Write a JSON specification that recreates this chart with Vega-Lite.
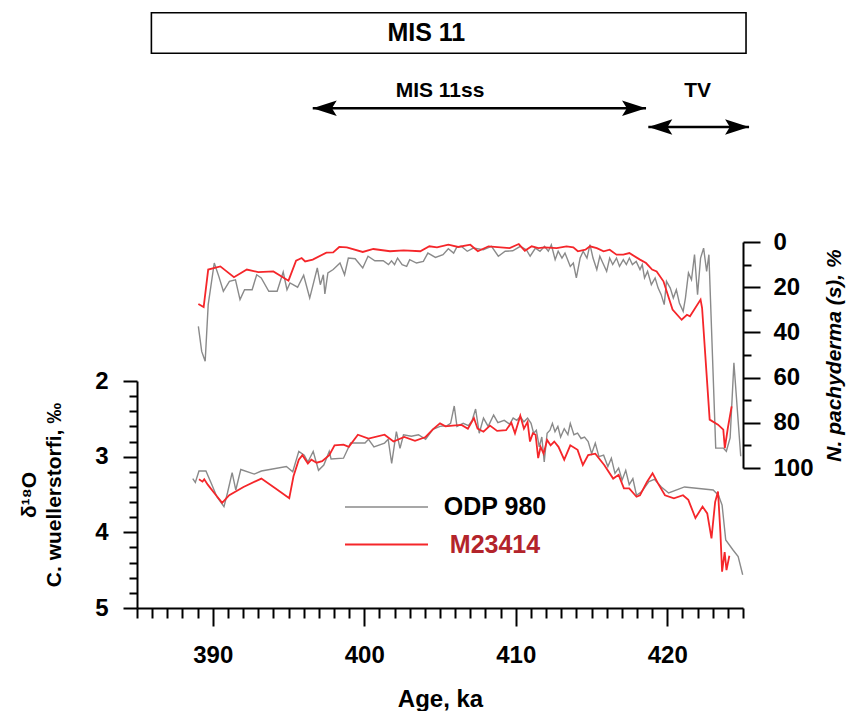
{
  "$schema": "https://vega.github.io/schema/vega-lite/v6.json",
  "width": 606,
  "height": 608,
  "autosize": {"type": "none"},
  "padding": {"left": 137, "top": 0, "right": 105, "bottom": 103},
  "background": "white",
  "config": {
    "font": "Liberation Sans",
    "view": {"stroke": null},
    "axis": {
      "domainColor": "black", "domainWidth": 2, "tickColor": "black", "tickWidth": 2,
      "labelColor": "black", "labelFontSize": 24, "labelFontWeight": "bold", "labelFont": "Liberation Sans",
      "titleFontSize": 24, "titleFontWeight": "bold", "titleColor": "black", "titleFont": "Liberation Sans",
      "grid": false
    }
  },
  "datasets": {
    "d18o": [
      {"core":"ODP 980","age":388.68,"d18o":3.29},{"core":"ODP 980","age":388.85,"d18o":3.34},{"core":"ODP 980","age":389.09,"d18o":3.19},{"core":"ODP 980","age":389.55,"d18o":3.19},{"core":"ODP 980","age":389.9,"d18o":3.35},{"core":"ODP 980","age":390.27,"d18o":3.53},{"core":"ODP 980","age":390.74,"d18o":3.66},{"core":"ODP 980","age":390.97,"d18o":3.48},{"core":"ODP 980","age":391.28,"d18o":3.21},{"core":"ODP 980","age":391.52,"d18o":3.44},{"core":"ODP 980","age":391.85,"d18o":3.17},{"core":"ODP 980","age":392.74,"d18o":3.23},{"core":"ODP 980","age":393.21,"d18o":3.19},{"core":"ODP 980","age":394.86,"d18o":3.13},{"core":"ODP 980","age":395.28,"d18o":3.2},{"core":"ODP 980","age":395.68,"d18o":2.93},{"core":"ODP 980","age":396.04,"d18o":2.98},{"core":"ODP 980","age":396.28,"d18o":3.07},{"core":"ODP 980","age":396.63,"d18o":2.93},{"core":"ODP 980","age":396.98,"d18o":3.18},{"core":"ODP 980","age":397.33,"d18o":3.11},{"core":"ODP 980","age":397.69,"d18o":2.93},{"core":"ODP 980","age":397.81,"d18o":3.03},{"core":"ODP 980","age":398.63,"d18o":3.02},{"core":"ODP 980","age":399.1,"d18o":2.82},{"core":"ODP 980","age":400.05,"d18o":2.82},{"core":"ODP 980","age":400.28,"d18o":2.77},{"core":"ODP 980","age":400.64,"d18o":2.87},{"core":"ODP 980","age":401.34,"d18o":2.82},{"core":"ODP 980","age":401.58,"d18o":2.77},{"core":"ODP 980","age":401.81,"d18o":3.09},{"core":"ODP 980","age":402.12,"d18o":2.67},{"core":"ODP 980","age":402.36,"d18o":2.89},{"core":"ODP 980","age":402.59,"d18o":2.71},{"core":"ODP 980","age":403.11,"d18o":2.73},{"core":"ODP 980","age":403.58,"d18o":2.71},{"core":"ODP 980","age":404.05,"d18o":2.77},{"core":"ODP 980","age":404.53,"d18o":2.64},{"core":"ODP 980","age":405.0,"d18o":2.6},{"core":"ODP 980","age":405.47,"d18o":2.59},{"core":"ODP 980","age":405.7,"d18o":2.56},{"core":"ODP 980","age":405.94,"d18o":2.33},{"core":"ODP 980","age":406.12,"d18o":2.6},{"core":"ODP 980","age":406.53,"d18o":2.56},{"core":"ODP 980","age":406.88,"d18o":2.59},{"core":"ODP 980","age":407.12,"d18o":2.52},{"core":"ODP 980","age":407.35,"d18o":2.37},{"core":"ODP 980","age":407.59,"d18o":2.69},{"core":"ODP 980","age":407.87,"d18o":2.49},{"core":"ODP 980","age":408.18,"d18o":2.6},{"core":"ODP 980","age":408.54,"d18o":2.45},{"core":"ODP 980","age":408.82,"d18o":2.55},{"core":"ODP 980","age":409.24,"d18o":2.52},{"core":"ODP 980","age":409.6,"d18o":2.57},{"core":"ODP 980","age":409.83,"d18o":2.49},{"core":"ODP 980","age":410.07,"d18o":2.52},{"core":"ODP 980","age":410.3,"d18o":2.47},{"core":"ODP 980","age":410.54,"d18o":2.54},{"core":"ODP 980","age":410.78,"d18o":2.49},{"core":"ODP 980","age":411.01,"d18o":2.56},{"core":"ODP 980","age":411.18,"d18o":2.69},{"core":"ODP 980","age":411.36,"d18o":2.65},{"core":"ODP 980","age":411.55,"d18o":2.87},{"core":"ODP 980","age":411.72,"d18o":2.74},{"core":"ODP 980","age":411.88,"d18o":3.07},{"core":"ODP 980","age":412.07,"d18o":2.69},{"core":"ODP 980","age":412.26,"d18o":2.65},{"core":"ODP 980","age":412.42,"d18o":2.56},{"core":"ODP 980","age":412.59,"d18o":2.67},{"core":"ODP 980","age":412.78,"d18o":2.6},{"core":"ODP 980","age":412.96,"d18o":2.74},{"core":"ODP 980","age":413.2,"d18o":2.63},{"core":"ODP 980","age":413.44,"d18o":2.71},{"core":"ODP 980","age":413.6,"d18o":2.56},{"core":"ODP 980","age":413.84,"d18o":2.71},{"core":"ODP 980","age":414.08,"d18o":2.69},{"core":"ODP 980","age":414.31,"d18o":2.76},{"core":"ODP 980","age":414.54,"d18o":2.74},{"core":"ODP 980","age":414.78,"d18o":2.8},{"core":"ODP 980","age":415.01,"d18o":2.96},{"core":"ODP 980","age":415.25,"d18o":2.82},{"core":"ODP 980","age":415.49,"d18o":3.0},{"core":"ODP 980","age":415.8,"d18o":2.98},{"core":"ODP 980","age":416.08,"d18o":3.13},{"core":"ODP 980","age":416.31,"d18o":3.02},{"core":"ODP 980","age":416.55,"d18o":3.22},{"core":"ODP 980","age":416.79,"d18o":3.15},{"core":"ODP 980","age":417.02,"d18o":3.31},{"core":"ODP 980","age":417.26,"d18o":3.18},{"core":"ODP 980","age":417.49,"d18o":3.37},{"core":"ODP 980","age":417.73,"d18o":3.29},{"core":"ODP 980","age":417.97,"d18o":3.51},{"core":"ODP 980","age":418.32,"d18o":3.46},{"core":"ODP 980","age":418.79,"d18o":3.33},{"core":"ODP 980","age":419.15,"d18o":3.3},{"core":"ODP 980","age":419.61,"d18o":3.4},{"core":"ODP 980","age":420.09,"d18o":3.48},{"core":"ODP 980","age":421.14,"d18o":3.4},{"core":"ODP 980","age":423.03,"d18o":3.44},{"core":"ODP 980","age":423.38,"d18o":3.51},{"core":"ODP 980","age":423.62,"d18o":3.64},{"core":"ODP 980","age":423.86,"d18o":4.1},{"core":"ODP 980","age":424.33,"d18o":4.23},{"core":"ODP 980","age":424.68,"d18o":4.32},{"core":"ODP 980","age":424.98,"d18o":4.56},
      {"core":"M23414","age":389.09,"d18o":3.3},{"core":"M23414","age":389.32,"d18o":3.33},{"core":"M23414","age":389.44,"d18o":3.3},{"core":"M23414","age":389.67,"d18o":3.37},{"core":"M23414","age":390.1,"d18o":3.48},{"core":"M23414","age":390.62,"d18o":3.61},{"core":"M23414","age":391.09,"d18o":3.51},{"core":"M23414","age":392.03,"d18o":3.4},{"core":"M23414","age":393.21,"d18o":3.29},{"core":"M23414","age":394.15,"d18o":3.42},{"core":"M23414","age":395.05,"d18o":3.55},{"core":"M23414","age":395.33,"d18o":3.26},{"core":"M23414","age":395.68,"d18o":3.04},{"core":"M23414","age":395.92,"d18o":2.98},{"core":"M23414","age":396.28,"d18o":3.09},{"core":"M23414","age":396.51,"d18o":3.04},{"core":"M23414","age":396.86,"d18o":3.08},{"core":"M23414","age":397.22,"d18o":3.06},{"core":"M23414","age":397.69,"d18o":2.98},{"core":"M23414","age":398.04,"d18o":2.85},{"core":"M23414","age":398.63,"d18o":2.84},{"core":"M23414","age":398.98,"d18o":2.87},{"core":"M23414","age":399.58,"d18o":2.71},{"core":"M23414","age":400.28,"d18o":2.76},{"core":"M23414","age":401.34,"d18o":2.71},{"core":"M23414","age":401.93,"d18o":2.8},{"core":"M23414","age":402.64,"d18o":2.74},{"core":"M23414","age":403.35,"d18o":2.79},{"core":"M23414","age":404.05,"d18o":2.74},{"core":"M23414","age":404.53,"d18o":2.64},{"core":"M23414","age":405.0,"d18o":2.56},{"core":"M23414","age":405.36,"d18o":2.6},{"core":"M23414","age":405.83,"d18o":2.59},{"core":"M23414","age":406.42,"d18o":2.58},{"core":"M23414","age":406.84,"d18o":2.63},{"core":"M23414","age":407.24,"d18o":2.49},{"core":"M23414","age":407.48,"d18o":2.63},{"core":"M23414","age":407.87,"d18o":2.67},{"core":"M23414","age":408.3,"d18o":2.59},{"core":"M23414","age":408.77,"d18o":2.66},{"core":"M23414","age":409.36,"d18o":2.65},{"core":"M23414","age":409.71,"d18o":2.55},{"core":"M23414","age":409.95,"d18o":2.69},{"core":"M23414","age":410.3,"d18o":2.46},{"core":"M23414","age":410.54,"d18o":2.63},{"core":"M23414","age":410.78,"d18o":2.54},{"core":"M23414","age":410.94,"d18o":2.8},{"core":"M23414","age":411.13,"d18o":2.69},{"core":"M23414","age":411.31,"d18o":2.71},{"core":"M23414","age":411.48,"d18o":3.02},{"core":"M23414","age":411.64,"d18o":2.87},{"core":"M23414","age":411.84,"d18o":2.96},{"core":"M23414","age":412.07,"d18o":2.78},{"core":"M23414","age":412.3,"d18o":2.85},{"core":"M23414","age":412.54,"d18o":2.8},{"core":"M23414","age":412.82,"d18o":2.87},{"core":"M23414","age":413.2,"d18o":3.04},{"core":"M23414","age":413.6,"d18o":2.85},{"core":"M23414","age":414.08,"d18o":2.91},{"core":"M23414","age":414.43,"d18o":3.11},{"core":"M23414","age":414.78,"d18o":2.98},{"core":"M23414","age":415.25,"d18o":2.96},{"core":"M23414","age":415.84,"d18o":3.11},{"core":"M23414","age":416.43,"d18o":3.29},{"core":"M23414","age":416.79,"d18o":3.24},{"core":"M23414","age":417.14,"d18o":3.42},{"core":"M23414","age":417.49,"d18o":3.42},{"core":"M23414","age":417.97,"d18o":3.53},{"core":"M23414","age":418.2,"d18o":3.51},{"core":"M23414","age":418.67,"d18o":3.33},{"core":"M23414","age":419.03,"d18o":3.22},{"core":"M23414","age":419.38,"d18o":3.35},{"core":"M23414","age":419.85,"d18o":3.51},{"core":"M23414","age":420.44,"d18o":3.55},{"core":"M23414","age":421.04,"d18o":3.51},{"core":"M23414","age":421.39,"d18o":3.57},{"core":"M23414","age":421.86,"d18o":3.81},{"core":"M23414","age":422.33,"d18o":3.66},{"core":"M23414","age":422.64,"d18o":3.75},{"core":"M23414","age":422.92,"d18o":4.08},{"core":"M23414","age":423.16,"d18o":3.6},{"core":"M23414","age":423.35,"d18o":3.46},{"core":"M23414","age":423.51,"d18o":4.01},{"core":"M23414","age":423.62,"d18o":4.52},{"core":"M23414","age":423.79,"d18o":4.26},{"core":"M23414","age":423.91,"d18o":4.5},{"core":"M23414","age":424.1,"d18o":4.31}
    ],
    "npach": [
      {"core":"ODP 980","age":389.05,"npach":37.3},{"core":"ODP 980","age":389.27,"npach":48.4},{"core":"ODP 980","age":389.5,"npach":52.8},{"core":"ODP 980","age":389.7,"npach":27.7},{"core":"ODP 980","age":390.1,"npach":9.3},{"core":"ODP 980","age":390.4,"npach":15.2},{"core":"ODP 980","age":390.7,"npach":21.8},{"core":"ODP 980","age":391.1,"npach":17.4},{"core":"ODP 980","age":391.5,"npach":16.7},{"core":"ODP 980","age":391.8,"npach":25.5},{"core":"ODP 980","age":392.1,"npach":21.1},{"core":"ODP 980","age":392.6,"npach":21.1},{"core":"ODP 980","age":392.9,"npach":14.5},{"core":"ODP 980","age":393.2,"npach":15.9},{"core":"ODP 980","age":393.7,"npach":21.8},{"core":"ODP 980","age":394.25,"npach":21.8},{"core":"ODP 980","age":394.65,"npach":13.3},{"core":"ODP 980","age":394.9,"npach":21.1},{"core":"ODP 980","age":395.1,"npach":18.1},{"core":"ODP 980","age":395.6,"npach":20.0},{"core":"ODP 980","age":396.0,"npach":14.7},{"core":"ODP 980","age":396.4,"npach":24.8},{"core":"ODP 980","age":396.9,"npach":11.5},{"core":"ODP 980","age":397.1,"npach":18.9},{"core":"ODP 980","age":397.3,"npach":14.5},{"core":"ODP 980","age":397.4,"npach":23.0},{"core":"ODP 980","age":397.6,"npach":13.7},{"core":"ODP 980","age":397.95,"npach":12.2},{"core":"ODP 980","age":398.4,"npach":9.3},{"core":"ODP 980","age":398.7,"npach":14.5},{"core":"ODP 980","age":398.95,"npach":7.1},{"core":"ODP 980","age":399.4,"npach":7.4},{"core":"ODP 980","age":399.9,"npach":11.5},{"core":"ODP 980","age":400.25,"npach":6.3},{"core":"ODP 980","age":400.7,"npach":8.3},{"core":"ODP 980","age":401.25,"npach":8.3},{"core":"ODP 980","age":401.6,"npach":10.0},{"core":"ODP 980","age":401.8,"npach":8.3},{"core":"ODP 980","age":402.0,"npach":10.0},{"core":"ODP 980","age":402.2,"npach":7.1},{"core":"ODP 980","age":402.5,"npach":10.0},{"core":"ODP 980","age":402.8,"npach":10.8},{"core":"ODP 980","age":403.0,"npach":7.8},{"core":"ODP 980","age":403.45,"npach":9.3},{"core":"ODP 980","age":403.9,"npach":8.6},{"core":"ODP 980","age":404.2,"npach":4.9},{"core":"ODP 980","age":404.7,"npach":6.8},{"core":"ODP 980","age":405.2,"npach":5.6},{"core":"ODP 980","age":405.55,"npach":3.0},{"core":"ODP 980","age":405.9,"npach":4.9},{"core":"ODP 980","age":406.1,"npach":2.4},{"core":"ODP 980","age":406.4,"npach":1.9},{"core":"ODP 980","age":406.8,"npach":4.1},{"core":"ODP 980","age":407.2,"npach":2.7},{"core":"ODP 980","age":407.85,"npach":3.4},{"core":"ODP 980","age":408.4,"npach":1.9},{"core":"ODP 980","age":408.85,"npach":6.3},{"core":"ODP 980","age":409.3,"npach":4.1},{"core":"ODP 980","age":409.8,"npach":3.9},{"core":"ODP 980","age":410.3,"npach":1.9},{"core":"ODP 980","age":410.7,"npach":3.4},{"core":"ODP 980","age":410.95,"npach":6.3},{"core":"ODP 980","age":411.3,"npach":2.7},{"core":"ODP 980","age":411.6,"npach":4.1},{"core":"ODP 980","age":411.9,"npach":1.9},{"core":"ODP 980","age":412.15,"npach":4.1},{"core":"ODP 980","age":412.35,"npach":1.2},{"core":"ODP 980","age":412.6,"npach":7.8},{"core":"ODP 980","age":412.8,"npach":4.1},{"core":"ODP 980","age":413.05,"npach":7.1},{"core":"ODP 980","age":413.25,"npach":4.9},{"core":"ODP 980","age":413.6,"npach":10.8},{"core":"ODP 980","age":413.8,"npach":9.3},{"core":"ODP 980","age":414.0,"npach":15.9},{"core":"ODP 980","age":414.25,"npach":7.1},{"core":"ODP 980","age":414.45,"npach":4.1},{"core":"ODP 980","age":414.7,"npach":7.1},{"core":"ODP 980","age":414.9,"npach":1.2},{"core":"ODP 980","age":415.1,"npach":7.1},{"core":"ODP 980","age":415.35,"npach":12.2},{"core":"ODP 980","age":415.55,"npach":6.3},{"core":"ODP 980","age":415.75,"npach":9.3},{"core":"ODP 980","age":416.0,"npach":13.0},{"core":"ODP 980","age":416.2,"npach":7.1},{"core":"ODP 980","age":416.4,"npach":10.0},{"core":"ODP 980","age":416.65,"npach":7.1},{"core":"ODP 980","age":416.85,"npach":10.8},{"core":"ODP 980","age":417.1,"npach":7.8},{"core":"ODP 980","age":417.3,"npach":10.0},{"core":"ODP 980","age":417.5,"npach":7.1},{"core":"ODP 980","age":417.7,"npach":10.0},{"core":"ODP 980","age":417.95,"npach":8.6},{"core":"ODP 980","age":418.2,"npach":12.2},{"core":"ODP 980","age":418.35,"npach":10.0},{"core":"ODP 980","age":418.5,"npach":15.9},{"core":"ODP 980","age":418.7,"npach":13.0},{"core":"ODP 980","age":418.95,"npach":18.9},{"core":"ODP 980","age":419.2,"npach":15.9},{"core":"ODP 980","age":419.4,"npach":20.4},{"core":"ODP 980","age":419.6,"npach":23.3},{"core":"ODP 980","age":419.8,"npach":27.7},{"core":"ODP 980","age":419.95,"npach":17.4},{"core":"ODP 980","age":420.2,"npach":20.4},{"core":"ODP 980","age":420.4,"npach":24.8},{"core":"ODP 980","age":420.6,"npach":21.1},{"core":"ODP 980","age":420.8,"npach":27.0},{"core":"ODP 980","age":421.05,"npach":30.7},{"core":"ODP 980","age":421.2,"npach":24.8},{"core":"ODP 980","age":421.4,"npach":13.7},{"core":"ODP 980","age":421.6,"npach":16.7},{"core":"ODP 980","age":421.8,"npach":5.6},{"core":"ODP 980","age":422.0,"npach":23.3},{"core":"ODP 980","age":422.2,"npach":7.1},{"core":"ODP 980","age":422.4,"npach":2.7},{"core":"ODP 980","age":422.6,"npach":13.0},{"core":"ODP 980","age":422.75,"npach":5.6},{"core":"ODP 980","age":423.2,"npach":91.2},{"core":"ODP 980","age":423.7,"npach":91.2},{"core":"ODP 980","age":423.9,"npach":92.6},{"core":"ODP 980","age":424.15,"npach":86.7},{"core":"ODP 980","age":424.4,"npach":53.5},{"core":"ODP 980","age":424.85,"npach":94.8},
      {"core":"M23414","age":389.05,"npach":27.4},{"core":"M23414","age":389.4,"npach":28.8},{"core":"M23414","age":389.7,"npach":12.2},{"core":"M23414","age":390.5,"npach":10.8},{"core":"M23414","age":391.4,"npach":15.6},{"core":"M23414","age":392.25,"npach":12.2},{"core":"M23414","age":393.0,"npach":13.3},{"core":"M23414","age":394.0,"npach":13.0},{"core":"M23414","age":395.0,"npach":17.1},{"core":"M23414","age":395.5,"npach":8.3},{"core":"M23414","age":395.87,"npach":7.1},{"core":"M23414","age":396.1,"npach":8.6},{"core":"M23414","age":396.6,"npach":7.8},{"core":"M23414","age":397.5,"npach":4.7},{"core":"M23414","age":397.95,"npach":4.6},{"core":"M23414","age":398.35,"npach":2.2},{"core":"M23414","age":398.85,"npach":2.4},{"core":"M23414","age":399.9,"npach":4.4},{"core":"M23414","age":400.6,"npach":3.1},{"core":"M23414","age":401.7,"npach":4.1},{"core":"M23414","age":402.6,"npach":3.7},{"core":"M23414","age":403.7,"npach":4.1},{"core":"M23414","age":404.3,"npach":1.9},{"core":"M23414","age":404.8,"npach":2.4},{"core":"M23414","age":405.55,"npach":1.2},{"core":"M23414","age":406.2,"npach":2.2},{"core":"M23414","age":407.0,"npach":1.2},{"core":"M23414","age":407.5,"npach":4.1},{"core":"M23414","age":408.2,"npach":1.9},{"core":"M23414","age":409.6,"npach":2.7},{"core":"M23414","age":410.2,"npach":0.9},{"core":"M23414","age":410.6,"npach":3.9},{"core":"M23414","age":411.05,"npach":1.9},{"core":"M23414","age":411.5,"npach":2.7},{"core":"M23414","age":411.9,"npach":2.4},{"core":"M23414","age":412.7,"npach":2.7},{"core":"M23414","age":413.35,"npach":1.9},{"core":"M23414","age":413.8,"npach":2.4},{"core":"M23414","age":414.1,"npach":4.1},{"core":"M23414","age":414.6,"npach":3.4},{"core":"M23414","age":414.9,"npach":1.9},{"core":"M23414","age":415.35,"npach":2.7},{"core":"M23414","age":415.8,"npach":4.1},{"core":"M23414","age":416.2,"npach":3.4},{"core":"M23414","age":416.65,"npach":5.6},{"core":"M23414","age":417.1,"npach":5.6},{"core":"M23414","age":417.5,"npach":4.9},{"core":"M23414","age":418.2,"npach":7.8},{"core":"M23414","age":418.6,"npach":9.3},{"core":"M23414","age":419.0,"npach":12.2},{"core":"M23414","age":419.3,"npach":13.0},{"core":"M23414","age":419.75,"npach":17.4},{"core":"M23414","age":420.35,"npach":29.9},{"core":"M23414","age":420.95,"npach":34.4},{"core":"M23414","age":421.3,"npach":32.2},{"core":"M23414","age":421.5,"npach":32.9},{"core":"M23414","age":422.2,"npach":25.5},{"core":"M23414","age":422.3,"npach":29.2},{"core":"M23414","age":422.8,"npach":78.6},{"core":"M23414","age":423.35,"npach":80.8},{"core":"M23414","age":423.7,"npach":83.0},{"core":"M23414","age":423.8,"npach":91.2},{"core":"M23414","age":424.0,"npach":82.3},{"core":"M23414","age":424.25,"npach":72.7}
    ],
    "stages": [
      {"label":"MIS 11","start":385.95,"end":425.2,"labelAge":404.1},
      {"label":"MIS 11ss","start":396.6,"end":418.6,"labelAge":405.0},
      {"label":"TV","start":418.75,"end":425.4,"labelAge":422.0}
    ]
  },
  "layer": [
    {
      "data": {"name": "d18o"},
      "mark": {"type": "line", "clip": false},
      "encoding": {
        "x": {
          "field": "age", "type": "quantitative",
          "scale": {"domain": [385, 425], "nice": false, "zero": false},
          "axis": {
            "title": "Age, ka",
            "values": [385,386,387,388,389,390,391,392,393,394,395,396,397,398,399,400,401,402,403,404,405,406,407,408,409,410,411,412,413,414,415,416,417,418,419,420,421,422,423,424,425],
            "tickCount": 200,
            "labelExpr": "datum.value % 10 === 0 ? format(datum.value, 'd') : ''",
            "tickSize": {"condition": {"test": "datum.value % 10 === 0", "value": 18}, "value": 10},
            "labelPadding": 17, "titlePadding": 20, "labelOverlap": false, "labelBound": false, "labelFlush": false
          }
        },
        "y": {
          "field": "d18o", "type": "quantitative",
          "scale": {"domain": [2, 5], "range": [381, 608], "nice": false, "zero": false},
          "axis": {
            "orient": "left",
            "title": ["δ¹⁸O", "C. wuellerstorfi, ‰"],
            "titleFontSize": 21, "titleLineHeight": 25, "titlePadding": 30,
            "values": [2,2.2,2.4,2.6,2.8,3,3.2,3.4,3.6,3.8,4,4.2,4.4,4.6,4.8,5],
            "tickCount": 200,
            "labelExpr": "abs(datum.value - round(datum.value)) < 0.001 ? format(datum.value, 'd') : ''",
            "tickSize": {"condition": {"test": "abs(datum.value - round(datum.value)) < 0.001", "value": 14}, "value": 8},
            "labelPadding": 15, "labelOverlap": false, "labelBound": false
          }
        },
        "color": {
          "field": "core", "type": "nominal",
          "scale": {"domain": ["ODP 980", "M23414"], "range": ["#8a8a8a", "#f5262a"]},
          "legend": {
            "orient": "none", "legendX": 207, "legendY": 492, "title": null,
            "symbolType": "stroke", "symbolSize": 6889, "symbolStrokeWidth": 1.6,
            "labelFontSize": 25, "labelFontWeight": "bold", "labelFont": "Liberation Sans",
            "clipHeight": 30, "rowPadding": 7.5, "labelAlign": "center", "labelOffset": 66,
            "padding": 0, "offset": 0,
            "encode": {"labels": {"update": {"fill": {"signal": "datum.label === 'M23414' ? '#b3242b' : '#000000'"}}}}
          }
        },
        "strokeWidth": {
          "field": "core", "type": "nominal",
          "scale": {"domain": ["ODP 980", "M23414"], "range": [1.4, 1.8]},
          "legend": null
        }
      }
    },
    {
      "data": {"name": "npach"},
      "mark": {"type": "line", "clip": false},
      "encoding": {
        "x": {"field": "age", "type": "quantitative"},
        "y": {
          "field": "npach", "type": "quantitative",
          "scale": {"domain": [0, 100], "range": [242, 468], "nice": false, "zero": false},
          "axis": {
            "orient": "right",
            "title": "N. pachyderma (s), %",
            "titleFontSize": 21, "titleFontStyle": "italic", "titleAngle": 270, "titlePadding": 31,
            "values": [0,10,20,30,40,50,60,70,80,90,100],
            "tickCount": 200,
            "labelExpr": "datum.value % 20 === 0 ? format(datum.value, 'd') : ''",
            "tickSize": {"condition": {"test": "datum.value % 20 === 0", "value": 17}, "value": 8},
            "labelPadding": 13, "labelOverlap": false, "labelBound": false
          }
        },
        "color": {"field": "core", "type": "nominal", "legend": null},
        "strokeWidth": {"field": "core", "type": "nominal", "legend": null}
      }
    },
    {
      "data": {"name": "stages"},
      "encoding": {
        "y": {
          "field": "label", "type": "nominal",
          "scale": {"type": "band", "domain": ["MIS 11", "gap 1", "gap 2", "gap 3", "MIS 11ss", "TV"], "range": [23.6, 136.4], "paddingInner": 0, "paddingOuter": 0},
          "axis": null
        }
      },
      "layer": [
        {
          "transform": [{"filter": "datum.label === 'MIS 11'"}],
          "mark": {"type": "bar", "height": 40.6, "fill": "white", "stroke": "black", "strokeWidth": 1.6, "orient": "horizontal"},
          "encoding": {
            "x": {"field": "start", "type": "quantitative"},
            "x2": {"field": "end"}
          }
        },
        {
          "transform": [{"filter": "datum.label === 'MIS 11'"}],
          "mark": {"type": "text", "fontSize": 25, "fontWeight": "bold", "color": "black", "baseline": "middle"},
          "encoding": {
            "x": {"field": "labelAge", "type": "quantitative"},
            "text": {"field": "label"}
          }
        },
        {
          "transform": [{"filter": "datum.label !== 'MIS 11'"}],
          "mark": {"type": "rule", "strokeWidth": 2.5, "color": "black"},
          "encoding": {
            "x": {"field": "start", "type": "quantitative"},
            "x2": {"field": "end"}
          }
        },
        {
          "transform": [{"filter": "datum.label !== 'MIS 11'"}],
          "mark": {"type": "point", "shape": "M0,0L2,-0.65L1.6,0L2,0.65Z", "size": 576, "filled": true, "color": "black", "opacity": 1, "strokeWidth": 0},
          "encoding": {"x": {"field": "start", "type": "quantitative"}}
        },
        {
          "transform": [{"filter": "datum.label !== 'MIS 11'"}],
          "mark": {"type": "point", "shape": "M0,0L-2,-0.65L-1.6,0L-2,0.65Z", "size": 576, "filled": true, "color": "black", "opacity": 1, "strokeWidth": 0},
          "encoding": {"x": {"field": "end", "type": "quantitative"}}
        },
        {
          "transform": [{"filter": "datum.label === 'MIS 11ss'"}],
          "mark": {"type": "text", "fontSize": 21, "fontWeight": "bold", "color": "black", "baseline": "middle", "dy": -17},
          "encoding": {
            "x": {"field": "labelAge", "type": "quantitative"},
            "text": {"field": "label"}
          }
        },
        {
          "transform": [{"filter": "datum.label === 'TV'"}],
          "mark": {"type": "text", "fontSize": 21, "fontWeight": "bold", "color": "black", "baseline": "middle", "dy": -36},
          "encoding": {
            "x": {"field": "labelAge", "type": "quantitative"},
            "text": {"field": "label"}
          }
        }
      ]
    }
  ],
  "resolve": {"scale": {"y": "independent"}, "axis": {"y": "independent"}}
}
